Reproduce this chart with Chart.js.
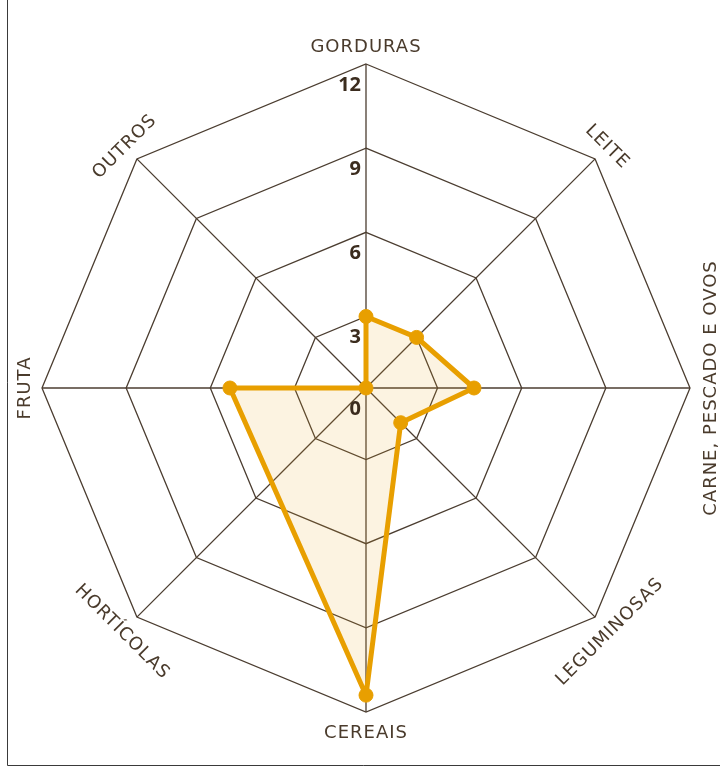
<!DOCTYPE html>
<html>
<head>
<meta charset="utf-8">
<script src="https://cdn.jsdelivr.net/npm/chart.js@4.4.1/dist/chart.umd.min.js"></script>
<style>
  html, body { margin: 0; padding: 0; background: #fff; }
  #wrap { position: relative; width: 720px; height: 768px; }
</style>
</head>
<body>
<div id="wrap"><canvas id="radar"></canvas></div>
<script>
// data
var categories = ['GORDURAS', 'LEITE', 'CARNE, PESCADO E OVOS', 'LEGUMINOSAS', 'CEREAIS', 'HORTÍCOLAS', 'FRUTA', 'OUTROS'];
var portions = [3, 3, 4.3, 2.2, 11.4, null, 5.3, 0];
var tickValues = [0, 3, 6, 9, 12];
var tickLabels = ['0', '3', '6', '9', '12'];

// the centre of the original sits a little above zero
var axisStart = 0.45;

document.addEventListener('DOMContentLoaded', function () {
    var ctx = document.getElementById('radar').getContext('2d');

    var frame = {
        id: 'frame',
        beforeDraw: function (chart) {
            var c = chart.ctx;
            c.save();
            c.strokeStyle = '#3a3a3a';
            c.lineWidth = 1;
            c.beginPath();
            c.moveTo(7.5, 0);
            c.lineTo(7.5, 765.5);
            c.lineTo(720, 765.5);
            c.stroke();
            c.restore();
        }
    };

    var labels = {
        id: 'labels',
        afterDatasetsDraw: function (chart) {
            var scale = chart.scales.r;
            var c = chart.ctx;
            c.save();

            c.font = 'bold 20px "Open Sans"';
            c.fillStyle = '#3b2c1e';
            c.textAlign = 'right';
            c.textBaseline = 'middle';
            tickValues.forEach(function (v, i) {
                var r = scale.getDistanceFromCenterForValue(Math.max(v, scale.min));
                c.fillText(tickLabels[i], scale.xCenter - 5, scale.yCenter - r + 21);
            });

            c.font = '18px "DejaVu Sans"';
            c.fillStyle = '#4a3b2c';
            c.textAlign = 'center';
            c.letterSpacing = '1px';
            var dist = scale.drawingArea + 19;
            categories.forEach(function (label, i) {
                var pos = scale.getPointPosition(i, dist);
                var deg = Math.round(scale.getIndexAngle(i) * 180 / Math.PI);
                var rot = ((deg + 90) % 180) - 90;
                c.save();
                c.translate(pos.x, pos.y);
                c.rotate(rot * Math.PI / 180);
                c.fillText(label, 0, 2);
                c.restore();
            });
            c.restore();
        }
    };

    var data = {
        labels: categories,
        datasets: [{
            label: 'Porções',
            data: portions.map(function (v) { return v === null ? null : Math.max(v, axisStart); }),
            borderColor: '#e89f00',
            backgroundColor: 'rgba(236, 170, 40, 0.14)',
            borderWidth: 5,
            borderJoinStyle: 'round',
            pointRadius: 7,
            pointBorderWidth: 1,
            pointBackgroundColor: '#e89f00',
            pointBorderColor: '#e89f00',
            spanGaps: true,
            fill: 'start',
        }],
    };

    var options = {
        responsive: true,
        maintainAspectRatio: false,
        animation: false,
        layout: {
            padding: { left: 42, top: 64, right: 30, bottom: 56 },
        },
        plugins: {
            legend: { display: false },
            tooltip: { enabled: false },
        },
        scales: {
            r: {
                min: axisStart,
                max: 12,
                afterBuildTicks: function (scale) {
                    scale.ticks = tickValues.map(function (v) {
                        return { value: Math.max(v, axisStart) };
                    });
                },
                grid: { color: '#4b3d30', lineWidth: 1.3 },
                angleLines: { color: '#4b3d30', lineWidth: 1.3 },
                ticks: { display: false },
                pointLabels: { display: false },
            },
        },
    };

    new Chart(ctx, {
        type: 'radar',
        data: data,
        options: options,
        plugins: [frame, labels],
    });
});
</script>
</body>
</html>
